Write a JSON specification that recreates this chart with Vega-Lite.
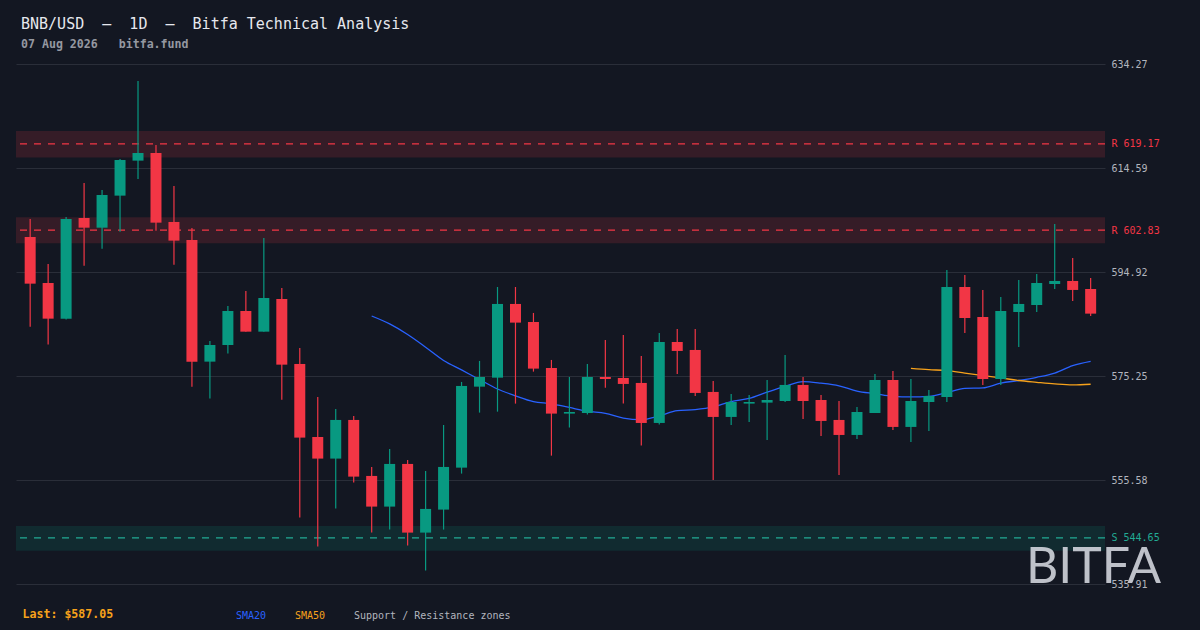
{
  "$schema": "https://vega.github.io/schema/vega-lite/v6.json",
  "width": 1089,
  "height": 520,
  "autosize": "none",
  "padding": {"left": 16, "top": 64, "right": 95, "bottom": 46},
  "background": "#131722",
  "title": {
    "text": "BNB/USD\u00a0\u00a0—\u00a0\u00a01D\u00a0\u00a0—\u00a0\u00a0Bitfa Technical Analysis",
    "subtitle": "07 Aug 2026\u00a0\u00a0\u00a0bitfa.fund",
    "anchor": "start",
    "frame": "group",
    "dx": 5,
    "offset": 8,
    "font": "DejaVu Sans Mono",
    "fontSize": 15,
    "fontWeight": "normal",
    "color": "#e6e8ee",
    "subtitleFont": "DejaVu Sans Mono",
    "subtitleFontSize": 11.6,
    "subtitleFontWeight": "bold",
    "subtitleColor": "#9598a1",
    "subtitlePadding": 7
  },
  "datasets": {
    "candles": [
      {"i": 1, "o": 601.55, "h": 604.95, "l": 584.59, "c": 592.72, "sma20": null, "sma50": null},
      {"i": 2, "o": 592.85, "h": 596.44, "l": 581.19, "c": 586.10, "sma20": null, "sma50": null},
      {"i": 3, "o": 586.10, "h": 605.33, "l": 585.92, "c": 604.95, "sma20": null, "sma50": null},
      {"i": 4, "o": 605.14, "h": 611.76, "l": 596.13, "c": 603.31, "sma20": null, "sma50": null},
      {"i": 5, "o": 603.31, "h": 610.44, "l": 599.34, "c": 609.49, "sma20": null, "sma50": null},
      {"i": 6, "o": 609.37, "h": 616.30, "l": 602.56, "c": 616.11, "sma20": null, "sma50": null},
      {"i": 7, "o": 615.99, "h": 631.05, "l": 612.52, "c": 617.44, "sma20": null, "sma50": null},
      {"i": 8, "o": 617.44, "h": 618.95, "l": 602.75, "c": 604.26, "sma20": null, "sma50": null},
      {"i": 9, "o": 604.39, "h": 611.20, "l": 596.32, "c": 600.86, "sma20": null, "sma50": null},
      {"i": 10, "o": 600.98, "h": 603.25, "l": 573.24, "c": 577.97, "sma20": null, "sma50": null},
      {"i": 11, "o": 577.97, "h": 581.88, "l": 570.98, "c": 581.12, "sma20": null, "sma50": null},
      {"i": 12, "o": 581.12, "h": 588.50, "l": 579.49, "c": 587.55, "sma20": null, "sma50": null},
      {"i": 13, "o": 587.55, "h": 591.34, "l": 583.64, "c": 583.64, "sma20": null, "sma50": null},
      {"i": 14, "o": 583.64, "h": 601.36, "l": 583.64, "c": 590.01, "sma20": null, "sma50": null},
      {"i": 15, "o": 589.82, "h": 591.90, "l": 570.78, "c": 577.40, "sma20": null, "sma50": null},
      {"i": 16, "o": 577.53, "h": 580.56, "l": 548.47, "c": 563.60, "sma20": null, "sma50": null},
      {"i": 17, "o": 563.72, "h": 571.29, "l": 542.98, "c": 559.63, "sma20": null, "sma50": null},
      {"i": 18, "o": 559.63, "h": 569.02, "l": 550.17, "c": 566.94, "sma20": null, "sma50": null},
      {"i": 19, "o": 566.94, "h": 567.70, "l": 555.09, "c": 556.22, "sma20": null, "sma50": null},
      {"i": 20, "o": 556.35, "h": 558.05, "l": 545.63, "c": 550.55, "sma20": 586.6, "sma50": null},
      {"i": 21, "o": 550.55, "h": 561.45, "l": 546.20, "c": 558.62, "sma20": 585.1, "sma50": null},
      {"i": 22, "o": 558.62, "h": 559.37, "l": 543.17, "c": 545.63, "sma20": 583.1, "sma50": null},
      {"i": 23, "o": 545.63, "h": 557.29, "l": 538.44, "c": 550.11, "sma20": 580.7, "sma50": null},
      {"i": 24, "o": 549.98, "h": 565.99, "l": 546.20, "c": 558.05, "sma20": 578.2, "sma50": null},
      {"i": 25, "o": 557.92, "h": 574.13, "l": 556.79, "c": 573.37, "sma20": 576.4, "sma50": null},
      {"i": 26, "o": 573.24, "h": 578.10, "l": 568.33, "c": 575.07, "sma20": 574.6, "sma50": null},
      {"i": 27, "o": 574.94, "h": 592.09, "l": 568.51, "c": 588.88, "sma20": 572.8, "sma50": null},
      {"i": 28, "o": 588.88, "h": 592.09, "l": 570.03, "c": 585.35, "sma20": 571.5, "sma50": null},
      {"i": 29, "o": 585.47, "h": 587.18, "l": 576.08, "c": 576.65, "sma20": 570.4, "sma50": null},
      {"i": 30, "o": 576.77, "h": 578.29, "l": 560.19, "c": 568.14, "sma20": 570.0, "sma50": null},
      {"i": 31, "o": 568.14, "h": 575.07, "l": 565.49, "c": 568.45, "sma20": 569.3, "sma50": null},
      {"i": 32, "o": 568.26, "h": 577.53, "l": 567.95, "c": 575.07, "sma20": 568.6, "sma50": null},
      {"i": 33, "o": 575.07, "h": 582.07, "l": 573.05, "c": 574.69, "sma20": 568.2, "sma50": null},
      {"i": 34, "o": 574.88, "h": 583.01, "l": 570.03, "c": 573.75, "sma20": 567.3, "sma50": null},
      {"i": 35, "o": 573.94, "h": 579.04, "l": 562.09, "c": 566.37, "sma20": 567.0, "sma50": null},
      {"i": 36, "o": 566.37, "h": 583.39, "l": 566.06, "c": 581.69, "sma20": 567.7, "sma50": null},
      {"i": 37, "o": 581.69, "h": 584.15, "l": 575.64, "c": 579.99, "sma20": 568.7, "sma50": null},
      {"i": 38, "o": 580.18, "h": 584.15, "l": 571.48, "c": 572.05, "sma20": 568.9, "sma50": null},
      {"i": 39, "o": 572.24, "h": 574.32, "l": 555.58, "c": 567.51, "sma20": 569.4, "sma50": null},
      {"i": 40, "o": 567.51, "h": 571.86, "l": 565.99, "c": 570.34, "sma20": 570.4, "sma50": null},
      {"i": 41, "o": 570.03, "h": 571.67, "l": 566.56, "c": 570.34, "sma20": 571.0, "sma50": null},
      {"i": 42, "o": 570.22, "h": 574.50, "l": 563.16, "c": 570.72, "sma20": 572.2, "sma50": null},
      {"i": 43, "o": 570.53, "h": 579.23, "l": 570.34, "c": 573.56, "sma20": 573.3, "sma50": null},
      {"i": 44, "o": 573.56, "h": 575.07, "l": 567.13, "c": 570.53, "sma20": 574.2, "sma50": null},
      {"i": 45, "o": 570.72, "h": 571.67, "l": 563.91, "c": 566.75, "sma20": 573.9, "sma50": null},
      {"i": 46, "o": 566.94, "h": 570.53, "l": 556.54, "c": 564.10, "sma20": 573.4, "sma50": null},
      {"i": 47, "o": 564.10, "h": 569.40, "l": 563.34, "c": 568.45, "sma20": 572.4, "sma50": null},
      {"i": 48, "o": 568.26, "h": 575.64, "l": 568.26, "c": 574.50, "sma20": 571.9, "sma50": null},
      {"i": 49, "o": 574.50, "h": 576.21, "l": 565.05, "c": 565.62, "sma20": 571.4, "sma50": null},
      {"i": 50, "o": 565.62, "h": 574.69, "l": 562.78, "c": 570.53, "sma20": 571.3, "sma50": 576.7},
      {"i": 51, "o": 570.34, "h": 572.61, "l": 564.86, "c": 571.48, "sma20": 571.4, "sma50": 576.45},
      {"i": 52, "o": 571.29, "h": 595.31, "l": 570.34, "c": 592.09, "sma20": 572.1, "sma50": 576.27},
      {"i": 53, "o": 592.09, "h": 594.36, "l": 583.39, "c": 586.23, "sma20": 572.9, "sma50": 575.8},
      {"i": 54, "o": 586.42, "h": 591.53, "l": 573.56, "c": 574.69, "sma20": 573.0, "sma50": 575.35},
      {"i": 55, "o": 574.69, "h": 590.20, "l": 573.56, "c": 587.55, "sma20": 573.9, "sma50": 574.9},
      {"i": 56, "o": 587.36, "h": 593.42, "l": 580.75, "c": 588.88, "sma20": 574.4, "sma50": 574.4},
      {"i": 57, "o": 588.69, "h": 594.55, "l": 587.36, "c": 592.85, "sma20": 575.0, "sma50": 574.06},
      {"i": 58, "o": 592.66, "h": 604.01, "l": 591.71, "c": 593.23, "sma20": 575.8, "sma50": 573.75},
      {"i": 59, "o": 593.23, "h": 597.58, "l": 589.45, "c": 591.53, "sma20": 577.2, "sma50": 573.56},
      {"i": 60, "o": 591.71, "h": 593.80, "l": 586.61, "c": 587.05, "sma20": 578.0, "sma50": 573.69}
    ],
    "levels": [
      {"kind": "R", "level": 619.17, "lo": 616.6, "hi": 621.6},
      {"kind": "R", "level": 602.83, "lo": 600.35, "hi": 605.3},
      {"kind": "S", "level": 544.65, "lo": 542.2, "hi": 546.9}
    ]
  },
  "layer": [
    {
      "data": {"name": "levels"},
      "mark": {"type": "rect"},
      "encoding": {
        "y": {
          "field": "lo",
          "type": "quantitative",
          "title": null,
          "scale": {"domain": [535.91, 634.27], "nice": false, "zero": false},
          "axis": {
            "orient": "right",
            "values": [535.91, 544.65, 555.58, 575.25, 594.92, 602.83, 614.59, 619.17, 634.27],
            "labelExpr": "(datum.value == 619.17 || datum.value == 602.83 ? 'R ' : datum.value == 544.65 ? 'S ' : '') + format(datum.value, '.2f')",
            "labelColor": {"expr": "datum.value == 544.65 ? '#22ab94' : (datum.value == 619.17 || datum.value == 602.83) ? '#f23645' : '#b2b5be'"},
            "gridOpacity": {"expr": "(datum.value == 544.65 || datum.value == 619.17 || datum.value == 602.83) ? 0 : 1"},
            "grid": true,
            "gridColor": "#2a2e39",
            "gridWidth": 1,
            "domain": false,
            "ticks": false,
            "labelPadding": 6,
            "labelFont": "DejaVu Sans Mono",
            "labelFontSize": 10,
            "labelOverlap": false,
            "labelFlush": false,
            "title": null
          }
        },
        "y2": {"field": "hi"},
        "color": {"condition": {"test": "datum.kind == 'S'", "value": "#112b30"}, "value": "#351c27"}
      }
    },
    {
      "data": {"name": "levels"},
      "mark": {"type": "rule", "strokeDash": [7, 7], "strokeWidth": 1.3},
      "encoding": {
        "y": {"field": "level", "type": "quantitative", "title": null},
        "color": {"condition": {"test": "datum.kind == 'S'", "value": "#22ab94"}, "value": "#f23645"}
      }
    },
    {
      "data": {"name": "candles"},
      "mark": {"type": "line", "strokeWidth": 1.3, "interpolate": "monotone"},
      "encoding": {
        "x": {"field": "i", "type": "quantitative", "title": "Last: $587.05", "scale": {"domain": [0.49, 60.52], "nice": false, "zero": false}},
        "y": {"field": "sma20", "type": "quantitative", "title": null},
        "color": {
          "datum": "SMA20",
          "type": "nominal",
          "scale": {"domain": ["SMA20", "SMA50", "Support / Resistance zones"], "range": ["#2962ff", "#f7a21b", "#b2b5be"]},
          "legend": {
            "orient": "none",
            "legendX": 210,
            "legendY": 547,
            "direction": "horizontal",
            "title": null,
            "gridAlign": "none",
            "columnPadding": 18,
            "labelOffset": 0,
            "labelLimit": 300,
            "labelFont": "DejaVu Sans Mono",
            "labelFontSize": 10,
            "labelColor": {"expr": "datum.label == 'SMA20' ? '#2962ff' : datum.label == 'SMA50' ? '#f7a21b' : '#b2b5be'"},
            "symbolSize": 0,
            "symbolStrokeWidth": 0,
            "symbolOpacity": 0
          }
        }
      }
    },
    {
      "data": {"name": "candles"},
      "mark": {"type": "line", "strokeWidth": 1.3, "interpolate": "monotone"},
      "encoding": {
        "x": {"field": "i", "type": "quantitative", "title": "Last: $587.05"},
        "y": {"field": "sma50", "type": "quantitative", "title": null},
        "color": {"datum": "SMA50", "type": "nominal"}
      }
    },
    {
      "data": {"name": "candles"},
      "mark": {"type": "rule", "strokeWidth": 1.2},
      "encoding": {
        "x": {"field": "i", "type": "quantitative", "title": "Last: $587.05"},
        "y": {"field": "l", "type": "quantitative", "title": null},
        "y2": {"field": "h"},
        "color": {"condition": {"test": "datum.c >= datum.o", "value": "#089981"}, "value": "#f23645"}
      }
    },
    {
      "data": {"name": "candles"},
      "mark": {"type": "bar", "width": 11},
      "encoding": {
        "x": {"field": "i", "type": "quantitative", "title": "Last: $587.05"},
        "y": {"field": "o", "type": "quantitative", "title": null},
        "y2": {"field": "c"},
        "color": {"condition": {"test": "datum.c >= datum.o", "value": "#089981"}, "value": "#f23645"}
      }
    },
    {
      "data": {"values": [{"logo": "BITFA"}]},
      "mark": {"type": "text", "align": "left", "baseline": "alphabetic", "font": "Lato", "fontSize": 50, "color": "#d1d4dc", "opacity": 0.9},
      "encoding": {
        "x": {"datum": 56.4, "type": "quantitative", "title": "Last: $587.05"},
        "y": {"datum": 536.1, "type": "quantitative", "title": null},
        "text": {"field": "logo"}
      }
    }
  ],
  "config": {
    "view": {"stroke": null},
    "axisX": {
      "labels": false,
      "ticks": false,
      "domain": false,
      "grid": false,
      "titleAnchor": "start",
      "titleAlign": "left",
      "titleX": 6,
      "titleY": 30,
      "titleBaseline": "middle",
      "titleColor": "#f7a21b",
      "titleFont": "DejaVu Sans Mono",
      "titleFontSize": 11.6,
      "titleFontWeight": "bold"
    }
  }
}
